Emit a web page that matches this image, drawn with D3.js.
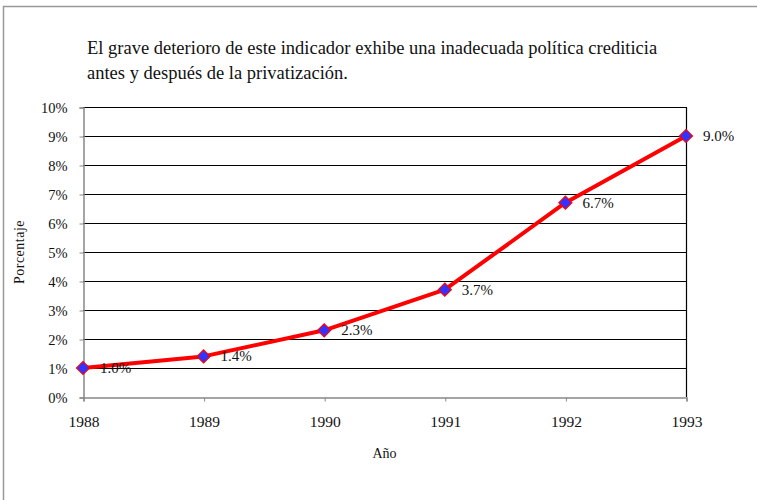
<!DOCTYPE html>
<html><head><meta charset="utf-8">
<script src="https://cdn.jsdelivr.net/npm/d3@7"></script>
<style>body{margin:0;background:#fff}svg{display:block}text{font-family:"Liberation Serif","Tinos","DejaVu Serif",serif;fill:#111}</style>
</head><body>
<svg id="c" width="757" height="500"></svg>
<script>
const years = [1988, 1989, 1990, 1991, 1992, 1993];
const values = [1.0, 1.4, 2.3, 3.7, 6.7, 9.0];
const yTicks = [0,1,2,3,4,5,6,7,8,9,10];
const titleLines = ["El grave deterioro de este indicador exhibe una inadecuada política crediticia","antes y después de la privatización."];
const SERIF = '"Liberation Serif","Tinos","DejaVu Serif",serif';

const svg = d3.select("#c");
svg.append("rect").attr("x",3.5).attr("y",6.5).attr("width",760).attr("height",500).attr("fill","#fff").attr("stroke","#999").attr("stroke-width",1.5);

const m = {l:83,r:686,t:107,b:397};
const x = d3.scaleLinear().domain([1988,1993]).range([m.l,m.r]);
const y = d3.scaleLinear().domain([0,10]).range([m.b,m.t]);

svg.selectAll(".tl").data(titleLines).join("text").attr("x",87).attr("y",(d,i)=>54+i*25)
 .style("font-family",SERIF).style("font-size","18.5px").text(d=>d);

// gridlines
svg.append("g").selectAll("line").data(yTicks.filter(d=>d>0)).join("line")
 .attr("x1",m.l).attr("x2",m.r).attr("y1",d=>y(d)+0.5).attr("y2",d=>y(d)+0.5).attr("stroke","#000").attr("stroke-width",1.2);
svg.append("line").attr("x1",m.r+0.5).attr("x2",m.r+0.5).attr("y1",m.t).attr("y2",m.b).attr("stroke","#000").attr("stroke-width",1.2);

const yAxis = d3.axisLeft(y).tickValues(yTicks).tickFormat(d=>d+"%").tickSize(4).tickPadding(12);
const gy = svg.append("g").attr("transform",`translate(${m.l+0.5},0.5)`).call(yAxis);
gy.attr("font-family",null);
gy.select(".domain").attr("stroke","#888").attr("stroke-width",1.5);
gy.selectAll(".tick line").attr("stroke","#888");
gy.selectAll("text").style("font-size","14.5px").style("font-family",SERIF).attr("fill","#111");

const xAxis = d3.axisBottom(x).tickValues(years).tickFormat(d3.format("d")).tickSize(4).tickPadding(14);
const gx = svg.append("g").attr("transform",`translate(0.5,${m.b+0.5})`).call(xAxis);
gx.attr("font-family",null);
gx.select(".domain").attr("stroke","#888").attr("stroke-width",1.5);
gx.selectAll(".tick line").attr("stroke","#888");
gx.selectAll("text").style("font-size","15.5px").style("font-family",SERIF).attr("fill","#111");

svg.append("text").attr("x",(m.l+m.r)/2).attr("y",458).attr("text-anchor","middle").style("font-family",SERIF).style("font-size","14px").text("Año");
svg.append("text").attr("transform",`translate(24,${(m.t+m.b)/2}) rotate(-90)`).attr("text-anchor","middle").style("font-family",SERIF).style("font-size","14px").style("letter-spacing","0.5px").text("Porcentaje");

const pts = years.map((yr,i)=>({yr,v:values[i]}));
svg.append("path").datum(pts).attr("d",d3.line().x(d=>x(d.yr)).y(d=>y(d.v))).attr("fill","none").attr("stroke","#ff0000").attr("stroke-width",4).attr("stroke-linejoin","round");

svg.selectAll(".mk").data(pts).join("path")
 .attr("d",d3.symbol(d3.symbolSquare,85)).attr("transform",d=>`translate(${x(d.yr)},${y(d.v)}) rotate(45)`)
 .attr("fill","#3333ff").attr("stroke","#ff0000").attr("stroke-width",1.2);

svg.selectAll(".lb").data(pts).join("text").attr("x",d=>x(d.yr)+17).attr("y",d=>y(d.v)+5)
 .style("font-family",SERIF).style("font-size","15px").text(d=>d.v.toFixed(1)+"%");
</script>
</body></html>
